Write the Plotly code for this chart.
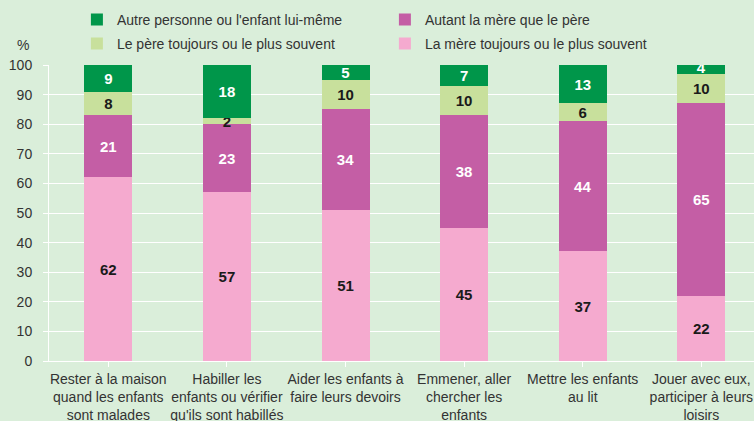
import plotly.graph_objects as go

categories = [
    "Rester à la maison<br>quand les enfants<br>sont malades",
    "Habiller les<br>enfants ou vérifier<br>qu'ils sont habillés",
    "Aider les enfants à<br>faire leurs devoirs",
    "Emmener, aller<br>chercher les<br>enfants",
    "Mettre les enfants<br>au lit",
    "Jouer avec eux,<br>participer à leurs<br>loisirs",
]
mere = [62, 57, 51, 45, 37, 22]
autant = [21, 23, 34, 38, 44, 65]
pere = [8, 2, 10, 10, 6, 10]
autre = [9, 18, 5, 7, 13, 4]

series = [
    ("La mère toujours ou le plus souvent", mere, "#F5AACF", "#1a1a1a", 2, "legend2"),
    ("Autant la mère que le père", autant, "#C45EA5", "#ffffff", 2, "legend"),
    ("Le père toujours ou le plus souvent", pere, "#C8E09C", "#1a1a1a", 1, "legend2"),
    ("Autre personne ou l'enfant lui-même", autre, "#00964A", "#ffffff", 1, "legend"),
]

FONT = "Liberation Sans, Arial"
BG = "#DAEEDA"

fig = go.Figure()
for name, vals, color, tcolor, rank, leg in series:
    fig.add_trace(go.Bar(
        x=list(range(len(categories))), y=vals, name=name,
        marker=dict(color=color, line=dict(width=0)),
        width=0.405,
        text=[str(v) for v in vals],
        textposition="inside", insidetextanchor="middle", textangle=0,
        textfont=dict(color=tcolor, size=15, family=FONT, weight="bold"),
        legendrank=rank, legend=leg,
    ))

legend_common = dict(
    orientation="h", xref="container", yref="container",
    x=0.102, xanchor="left", yanchor="top",
    entrywidth=263, traceorder="normal",
    font=dict(size=14, color="#333333", family=FONT),
    bgcolor="rgba(0,0,0,0)",
)

fig.update_layout(
    barmode="stack",
    width=754, height=421,
    paper_bgcolor=BG, plot_bgcolor=BG,
    margin=dict(l=49, r=0, t=65, b=60),
    font=dict(family=FONT, size=14, color="#333333"),
    uniformtext=dict(mode="show", minsize=15),
    showlegend=True,
    legend=dict(legend_common, y=0.991),
    legend2=dict(legend_common, y=0.934),
    xaxis=dict(
        tickmode="array", tickvals=list(range(len(categories))), ticktext=categories,
        range=[-0.5, 5.444], showgrid=False, tickangle=0, automargin=False,
        showline=True, linecolor="white", linewidth=1,
        ticks="outside", tickson="boundaries", tickcolor="white", ticklen=5,
        tickfont=dict(size=14, color="#333333"),
    ),
    yaxis=dict(
        range=[0, 100], dtick=10, showgrid=True, gridcolor="white", gridwidth=1,
        showline=True, linecolor="white", linewidth=1,
        ticks="outside", tickcolor="white", ticklen=5, automargin=False,
        ticklabelstandoff=8, zeroline=False,
        tickfont=dict(size=14, color="#333333"),
    ),
    annotations=[dict(text="%", xref="paper", yref="paper", x=-0.025, y=1.035,
                      xanchor="right", yanchor="bottom", showarrow=False,
                      font=dict(size=14, color="#333333"))],
)

fig.write_html("out.html")
